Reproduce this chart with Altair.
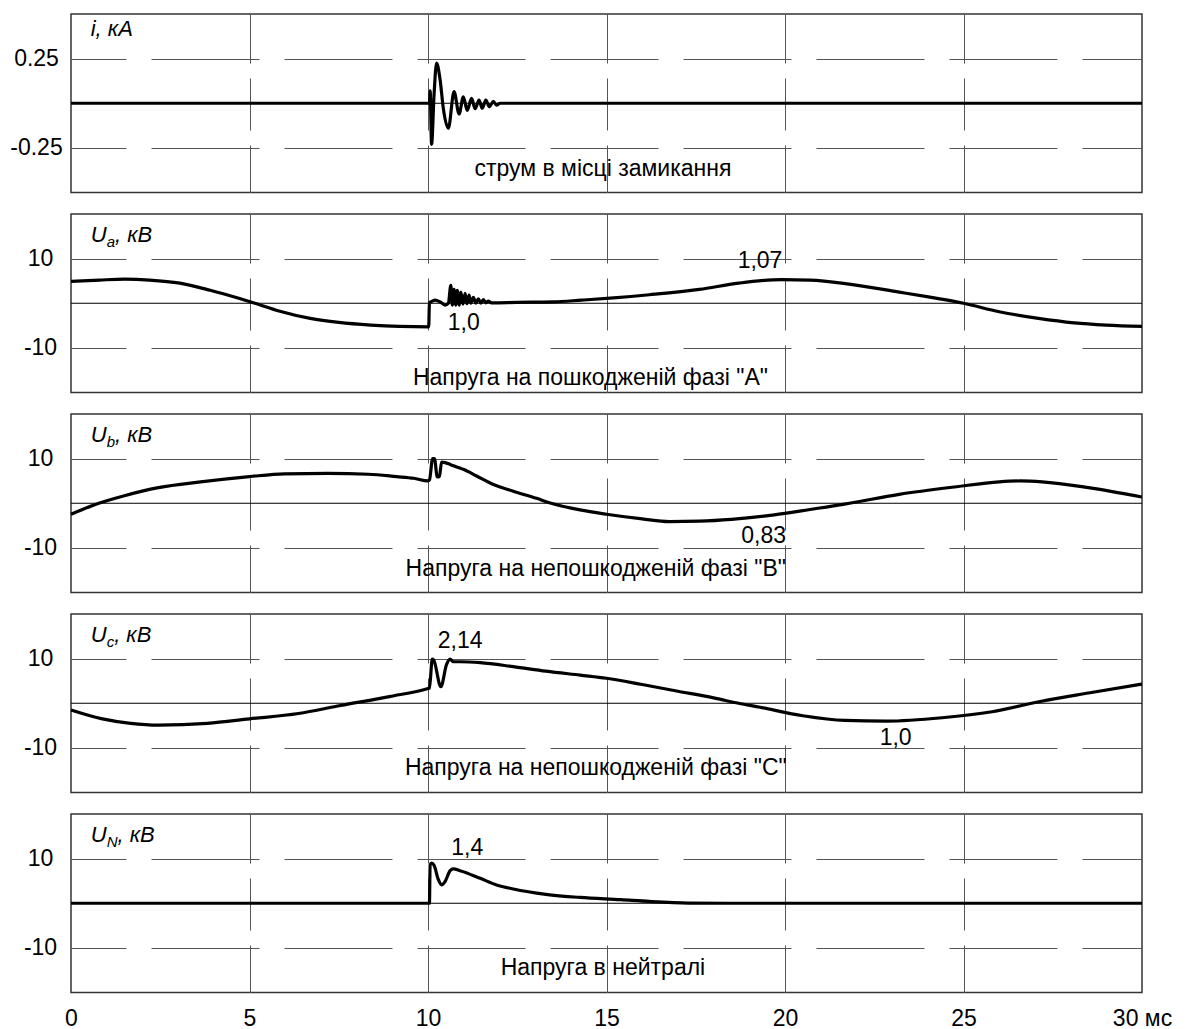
import altair as alt
import pandas as pd

FONT = "Liberation Sans"
X_TICKS = [0, 5, 10, 15, 20, 25, 30]

# ---- panel 1: fault current i, kA ----
i_t = [0, 10.0, 10.04, 10.06, 10.10, 10.17, 10.24, 10.34, 10.43, 10.57, 10.73, 10.87, 10.99,
       11.10, 11.22, 11.32, 11.43, 11.52, 11.62, 11.72, 11.83, 11.92, 12.02, 30]
i_v = [0, 0, 0.0, 0.07, -0.23, 0.05, 0.225, 0.13, -0.03, -0.14, 0.065, -0.06, 0.036,
       -0.04, 0.027, -0.03, 0.017, -0.028, 0.017, -0.02, 0.01, -0.01, 0, 0]

# ---- panel 2: Ua ----
ua_t = [0, 0.8, 1.5, 2.2, 3.05, 3.9, 4.7, 5.15, 5.85, 6.7, 7.5, 8.4, 9.2, 10.02,
        10.04, 10.075, 10.20, 10.34, 10.48, 10.57, 10.64, 10.68, 10.73, 10.78, 10.82, 10.88,
        10.92, 10.98, 11.04, 11.09, 11.15, 11.20, 11.27, 11.34, 11.41, 11.48, 11.55, 11.62,
        11.69, 11.78, 12.5, 13.5, 14.3, 15.2, 16.2, 17.6, 18.7, 19.9, 20.7, 21.8, 23.2,
        24.1, 25.0, 26.0, 27.1, 28.1, 29.0, 30.0]
ua_v = [4.9, 5.2, 5.4, 5.2, 4.5, 2.9, 1.1, 0.0, -1.8, -3.4, -4.3, -4.9, -5.2, -5.3,
        0.2, 0.3, 0.7, 0.3, -0.4, 0.0, 4.0, -0.4, 3.1, -0.4, 2.9, -0.4,
        2.5, -0.2, 2.2, -0.1, 1.8, 0.0, 1.3, 0.0, 1.0, 0.0, 0.8, 0.1,
        0.5, 0.1, 0.2, 0.3, 0.7, 1.2, 1.9, 3.1, 4.5, 5.3, 5.2, 4.3, 2.5,
        1.3, 0.0, -1.9, -3.4, -4.4, -4.9, -5.2]

# ---- panel 3: Ub ----
ub_t = [0, 0.78, 1.47, 2.45, 3.63, 5.0, 5.98, 7.2, 8.33, 9.12, 9.6, 10.0,
        10.04, 10.13, 10.18, 10.26, 10.32, 10.38, 10.48, 10.62, 10.85, 10.99, 11.36,
        11.83, 12.39, 13.04, 13.45, 14.26, 15.0, 16.0, 16.76, 17.6, 18.5, 19.7, 20.7,
        21.67, 23.2, 24.8, 26.0, 26.6, 27.2, 28.5, 30.0]
ub_v = [-2.46, 0.0, 1.64, 3.5, 4.78, 5.97, 6.6, 6.7, 6.5, 5.97, 5.6, 5.0,
        5.2, 10.0, 10.0, 5.9, 6.0, 9.2, 9.1, 8.7, 8.0, 7.6, 6.1,
        4.2, 2.7, 1.1, 0.0, -1.5, -2.46, -3.5, -4.1, -4.0, -3.6, -2.6, -1.4,
        -0.2, 2.0, 3.7, 4.8, 5.0, 4.8, 3.5, 1.4]

# ---- panel 4: Uc ----
uc_t = [0, 0.88, 1.67, 2.45, 3.82, 5.0, 6.37, 7.55, 8.92, 10.0,
        10.04, 10.12, 10.16, 10.36, 10.52, 10.62, 10.71, 10.9, 11.46, 12.39, 13.3,
        14.26, 15.0, 16.0, 17.0, 18.0, 18.7, 19.3, 20.5, 21.67, 22.84, 24.4, 25.8,
        27.15, 28.5, 30.0]
uc_v = [-1.5, -3.5, -4.5, -4.9, -4.5, -3.5, -2.3, -0.5, 1.5, 3.3,
        3.4, 9.9, 9.7, 3.7, 8.7, 9.9, 9.3, 9.3, 9.1, 8.2, 7.2,
        6.3, 5.6, 4.2, 2.7, 1.2, 0.0, -0.9, -2.8, -3.85, -4.0, -3.25, -1.9,
        0.4, 2.3, 4.3]

# ---- panel 5: UN ----
un_t = [0, 10.02, 10.04, 10.06, 10.10, 10.17, 10.29, 10.38, 10.48, 10.62, 10.71, 10.9,
        11.46, 11.92, 12.39, 13.3, 14.26, 15.4, 16.2, 17.3, 18.5, 30.0]
un_v = [0, 0, 0.0, 8.6, 9.0, 8.5, 5.3, 4.1, 4.9, 7.3, 7.7, 7.3,
        5.6, 4.1, 3.2, 2.0, 1.3, 0.8, 0.4, 0.05, 0.0, 0.0]

captions = [
    "струм в місці замикання",
    "Напруга на пошкодженій фазі \"А\"",
    "Напруга на непошкодженій фазі \"В\"",
    "Напруга на непошкодженій фазі \"С\"",
    "Напруга в нейтралі",
]
caption_pos = [(14.9, -0.37), (14.55, -16.7), (14.7, -14.8), (14.7, -14.6), (14.9, -14.6)]

notes = [
    [],
    [("1,07", 19.3, 9.4), ("1,0", 11.0, -4.5)],
    [("0,83", 19.4, -7.3)],
    [("2,14", 10.9, 14.0), ("1,0", 23.1, -7.7)],
    [("1,4", 11.1, 12.4)],
]

units = [
    ("i, кА", "", "", 0.375),
    ("U", "a", ", кВ", 13.8),
    ("U", "b", ", кВ", 13.8),
    ("U", "c", ", кВ", 13.8),
    ("U", "N", ", кВ", 13.8),
]
sub_width = {"": 0, "a": 8.3, "b": 8.3, "c": 7.5, "N": 10.8}

domains = [[-0.5, 0.5], [-20, 20], [-20, 20], [-20, 20], [-20, 20]]
ytick_vals = [[-0.25, 0.25], [-10, 10], [-10, 10], [-10, 10], [-10, 10]]
series = [(i_t, i_v), (ua_t, ua_v), (ub_t, ub_v), (uc_t, uc_v), (un_t, un_v)]

W = 1071
H = 178.5
FS = 23


def make_panel(k):
    bottom = k == 4
    t, v = series[k]
    xaxis = alt.Axis(
        values=X_TICKS, grid=True, gridDash=[52, 15], gridDashOffset=3,
        gridColor="#555", gridWidth=1,
        gridOpacity=alt.condition("datum.value == 0 || datum.value == 30", alt.value(0), alt.value(1)),
        domain=False, ticks=False, tickSize=0, labels=bottom, title=None,
        labelExpr="datum.value == 30 ? '30 мс' : datum.label",
        labelFont=FONT, labelFontSize=FS, labelColor="black", labelFlush=False,
        labelPadding=33 if bottom else 0, labelBaseline="alphabetic",
        minExtent=0, maxExtent=40 if bottom else 0,
    )
    yaxis = alt.Axis(
        values=ytick_vals[k], grid=True, gridDash=[108, 25], gridDashOffset=53,
        gridColor="#555", gridWidth=1, domain=False, ticks=False, tickSize=0,
        title=None, labelExpr="'' + datum.value", labelFont=FONT, labelFontSize=FS,
        labelColor="black", labelAlign="center", labelPadding=35 if k == 0 else 31,
        minExtent=58, maxExtent=58,
    )
    X = alt.X("t:Q", scale=alt.Scale(domain=[0, 30], nice=False, zero=False), axis=xaxis)
    Y = alt.Y("v:Q", scale=alt.Scale(domain=domains[k], nice=False, zero=False), axis=yaxis)

    line_df = pd.DataFrame({"t": t, "v": v})
    line = alt.Chart(line_df).mark_line(
        color="black", strokeWidth=3.2, interpolate="monotone", strokeJoin="round"
    ).encode(x=X, y=Y)

    zero = alt.Chart(pd.DataFrame({"t": [0], "v": [0]})).mark_rule(
        color="black", strokeWidth=1
    ).encode(y=Y)

    cx, cy = caption_pos[k]
    cap = alt.Chart(pd.DataFrame({"t": [cx], "v": [cy], "label": [captions[k]]})).mark_text(
        font=FONT, fontSize=FS, align="center", baseline="middle", color="black"
    ).encode(x=X, y=Y, text="label:N")

    layers = [zero, line, cap]

    if notes[k]:
        nd = pd.DataFrame({"label": [n[0] for n in notes[k]],
                           "t": [n[1] for n in notes[k]],
                           "v": [n[2] for n in notes[k]]})
        layers.append(alt.Chart(nd).mark_text(
            font=FONT, fontSize=FS, align="center", baseline="middle", color="black"
        ).encode(x=X, y=Y, text="label:N"))

    main, sub, rest, uy = units[k]
    ux = 0.55
    udf = pd.DataFrame({"t": [ux], "v": [uy], "a": [main], "b": [sub], "c": [rest]})
    layers.append(alt.Chart(udf).mark_text(
        font=FONT, fontSize=22, fontStyle="italic", align="left", baseline="alphabetic", color="black"
    ).encode(x=X, y=Y, text="a:N"))
    if sub:
        layers.append(alt.Chart(udf).mark_text(
            font=FONT, fontSize=15, fontStyle="italic", align="left", baseline="alphabetic",
            color="black", dx=16, dy=5
        ).encode(x=X, y=Y, text="b:N"))
        layers.append(alt.Chart(udf).mark_text(
            font=FONT, fontSize=22, fontStyle="italic", align="left", baseline="alphabetic",
            color="black", dx=16 + sub_width[sub]
        ).encode(x=X, y=Y, text="c:N"))

    return alt.layer(*layers).properties(width=W, height=H)


chart = alt.vconcat(*[make_panel(k) for k in range(5)], spacing=19).configure_view(
    stroke="#333", strokeWidth=1.5
).properties(
    padding={"left": 1, "top": 5, "right": 5, "bottom": 0}, background="white"
)

chart.save("out.html", embed_options={"renderer": "svg", "actions": False})
